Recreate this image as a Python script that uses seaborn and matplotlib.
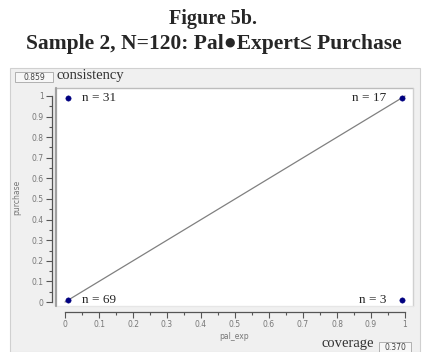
import matplotlib
matplotlib.use("Agg")
import matplotlib.pyplot as plt
import seaborn as sns
from matplotlib.patches import Rectangle
from matplotlib.ticker import MultipleLocator

# data
pal_exp = [0.01, 0.99, 0.01, 0.99]
purchase = [0.99, 0.99, 0.01, 0.01]
n_cases = [31, 17, 69, 3]
diag = [0, 1]
consistency = 0.859
coverage = 0.370

sns.set_style("white")
plt.rcParams["font.family"] = ["DejaVu Sans"]
SERIF = ["Liberation Serif", "DejaVu Serif"]

fig = plt.figure(figsize=(4.27, 3.52), dpi=100)
W, H = 427, 352

def fx(px):
    return px / W

def fy(py):
    return 1 - py / H

# grey panel behind the plot
fig.patches.append(Rectangle((fx(10), 0), fx(410), fy(68), transform=fig.transFigure,
                             facecolor="#f0f0f0", edgecolor="#d0d0d0", lw=0.8, zorder=-5))

# title
fig.text(0.5, fy(19), "Figure 5b.", ha="center", va="center", fontsize=14.5,
         fontweight="bold", family=SERIF)
fig.text(0.5, fy(44), "Sample 2, N=120: Pal\u25CFExpert\u2264 Purchase", ha="center",
         va="center", fontsize=15.5, fontweight="bold", family=SERIF)

ax = fig.add_axes([fx(56), fy(306), fx(357), fy(88) - fy(306)])
ax.set_facecolor("white")

sns.lineplot(x=diag, y=diag, ax=ax, color="#808080", lw=0.9, zorder=2)
sns.scatterplot(x=pal_exp, y=purchase, ax=ax, color="#000080", s=15, edgecolor="#000080",
                zorder=3, clip_on=False)

for x, y, n in zip(pal_exp, purchase, n_cases):
    left = x < 0.5
    ax.annotate(f"n = {n}", (x, y), xytext=(10 if left else -11, 0), textcoords="offset points",
                ha="left" if left else "right", va="center", fontsize=9.5, family=SERIF)

ax.set_xlim(-0.0265, 1.0235)
ax.set_ylim(-0.0194, 1.0388)

for s in ["top", "right"]:
    ax.spines[s].set_visible(False)
ax.spines["left"].set_position(("outward", 3))
ax.spines["bottom"].set_position(("outward", 4.3))
ax.spines["left"].set_bounds(0, 1)
ax.spines["bottom"].set_bounds(0, 1)
for s in ["left", "bottom"]:
    ax.spines[s].set_color("#555555")
    ax.spines[s].set_linewidth(0.9)

# box border of the white plot area
ax.plot([0, 1], [1, 1], transform=ax.transAxes, color="#bdbdbd", lw=1.0, clip_on=False)
ax.plot([1, 1], [0, 1], transform=ax.transAxes, color="#d0d0d0", lw=1.0, clip_on=False)
ax.plot([0, 1], [0, 0], transform=ax.transAxes, color="#e6e6e6", lw=1.0, clip_on=False)
ax.plot([0, 0], [0, 1], transform=ax.transAxes, color="#a0a0a0", lw=1.6, clip_on=False)

ax.xaxis.set_major_locator(MultipleLocator(0.1))
ax.xaxis.set_minor_locator(MultipleLocator(0.05))
ax.yaxis.set_major_locator(MultipleLocator(0.1))
ax.yaxis.set_minor_locator(MultipleLocator(0.05))
fmt = lambda v, p: f"{v:.1f}".rstrip("0").rstrip(".") if v not in (0, 1) else str(int(v))
ax.xaxis.set_major_formatter(fmt)
ax.yaxis.set_major_formatter(fmt)
ax.tick_params(which="major", length=4, width=0.8, color="#555555", labelsize=5.5,
               labelcolor="#777777", pad=2)
ax.tick_params(which="minor", length=2, width=0.8, color="#555555")
ax.tick_params(axis="x", which="both", bottom=True, direction="out")
ax.tick_params(axis="y", which="both", left=True, direction="out")
ax.set_xlabel("pal_exp", fontsize=5.5, color="#777777", labelpad=2)
ax.set_ylabel("purchase", fontsize=5.5, color="#777777", labelpad=7)
ax.grid(False)

# consistency / coverage readouts
fig.patches.append(Rectangle((fx(15), fy(82)), fx(38), fy(72) - fy(82), transform=fig.transFigure,
                             facecolor="#f7f7f7", edgecolor="#b0b0b0", lw=0.7))
fig.text(fx(34), fy(77), f"{consistency:.3f}", ha="center", va="center", fontsize=5.5,
         color="#444444")
fig.text(fx(57), fy(75), "consistency", ha="left", va="center", fontsize=10.5,
         family=SERIF, color="#333333")
fig.patches.append(Rectangle((fx(379), fy(353)), fx(32), fy(342) - fy(353), transform=fig.transFigure,
                             facecolor="#f7f7f7", edgecolor="#b0b0b0", lw=0.7))
fig.text(fx(395), fy(347.5), f"{coverage:.3f}", ha="center", va="center", fontsize=5.5,
         color="#444444")
fig.text(fx(374), fy(344), "coverage", ha="right", va="center", fontsize=10.5,
         family=SERIF, color="#333333")

fig.savefig("out.png", dpi=100)
